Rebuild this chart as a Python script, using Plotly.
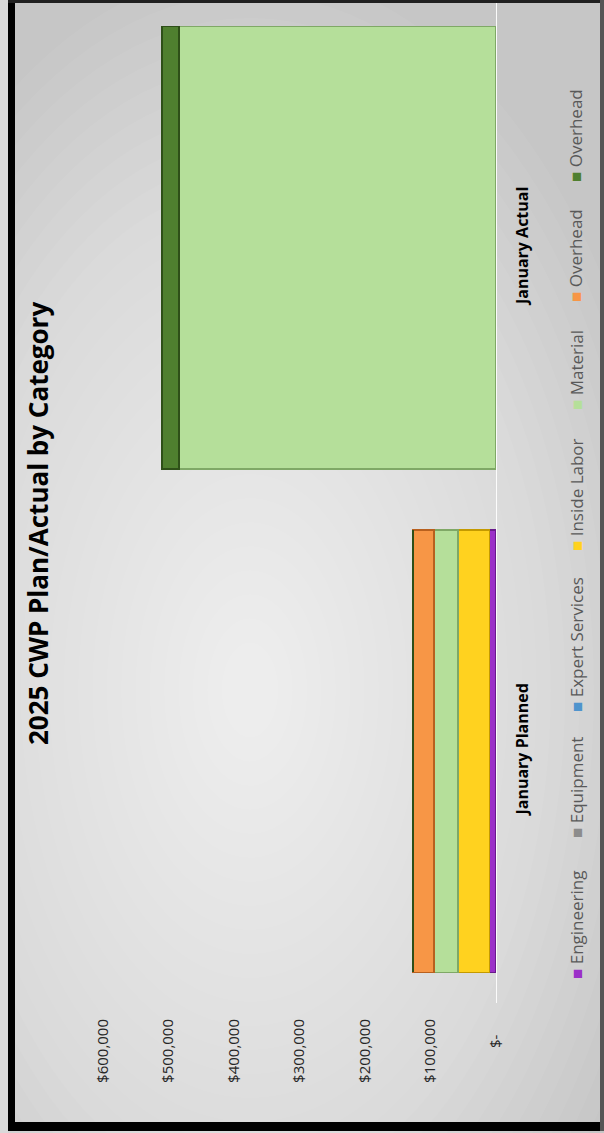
import plotly.graph_objects as go

# ---------------- data ----------------
categories = ["January Planned", "January Actual"]
series_names = ["Engineering", "Equipment", "Expert Services", "Inside Labor",
                "Material", "Overhead", "Overhead"]
engineering = [10000, 0]
equipment = [0, 0]
expert_services = [0, 0]
inside_labor = [48000, 0]
material = [37000, 484000]
overhead_orange = [32000, 0]
overhead_green = [0, 26000]
tick_values = [0, 100000, 200000, 300000, 400000, 500000, 600000]
tick_labels = ["$-\u00a0\u00a0\u00a0\u00a0", "$100,000", "$200,000", "$300,000",
               "$400,000", "$500,000", "$600,000"]
title_text = "2025 CWP Plan/Actual by Category"

series_values = [engineering, equipment, expert_services, inside_labor,
                 material, overhead_orange, overhead_green]
colors = ["#9B30C8", "#8C8C8C", "#4F94CD", "#FFD21F", "#B5DF9A", "#F79646", "#4F7F2F"]
edge_colors = ["#6A1A8C", "#5A5A5A", "#2E6A9E", "#C49A00", "#7FA866", "#B8601E", "#2E4F18"]

# ---------------- geometry ----------------
W, H = 604, 1133
ML, MR, MT, MB = 103, 108, 0, 130
PW = W - ML - MR
PH = H - MT - MB


def px(xp):
    return (xp - ML) / PW


def py(yp):
    return (H - MB - yp) / PH


fig = go.Figure()
for name, vals, c, ec in zip(series_names, series_values, colors, edge_colors):
    fig.add_trace(go.Bar(
        y=categories, x=vals, name=name, orientation="h",
        marker=dict(color=c, line=dict(color=ec, width=1.5)),
        showlegend=False,
    ))

# background gradient approximation
shapes = []
cx, cy = 250, 690
n = 30
for i in range(n):
    f = 1 - i / n
    rx, ry = 430 * f, 720 * f
    shapes.append(dict(type="circle", xref="paper", yref="paper", layer="below",
                       x0=px(cx - rx), x1=px(cx + rx), y0=py(cy + ry), y1=py(cy - ry),
                       fillcolor="white", opacity=0.05, line=dict(width=0)))


def rect(x0, y0, x1, y1, color):
    return dict(type="rect", xref="paper", yref="paper", layer="above",
                x0=px(x0), x1=px(x1), y0=py(y1), y1=py(y0),
                fillcolor=color, line=dict(width=0))


shapes += [
    rect(0, 0, 8, H, "#D9D9D9"),
    rect(8, 0, 15, 1130, "#000000"),
    rect(8, 0, W, 3, "#202020"),
    rect(8, 1122, W, 1131, "#000000"),
    rect(600, 0, W, 1131, "#555555"),
]

annotations = []
annotations.append(dict(text=f"<b>{title_text}</b>", x=px(38), y=py(524),
                        xref="paper", yref="paper", showarrow=False, textangle=-90,
                        xanchor="center", yanchor="middle",
                        font=dict(family="Open Sans", size=26, color="#000000")))

legend_centers = [925, 788, 645, 495, 370, 256, 136]
for name, c, yc in zip(series_names, colors, legend_centers):
    annotations.append(dict(
        text=f"<span style='color:{c}'>■</span> {name}",
        x=px(576), y=py(yc), xref="paper", yref="paper", showarrow=False,
        textangle=-90, xanchor="center", yanchor="middle",
        font=dict(family="Open Sans", size=17, color="#595959")))

fig.update_layout(
    width=W, height=H,
    margin=dict(l=ML, r=MR, t=MT, b=MB, autoexpand=False),
    barmode="stack", bargap=0.122,
    paper_bgcolor="#C6C6C6", plot_bgcolor="rgba(0,0,0,0)",
    shapes=shapes, annotations=annotations,
    xaxis=dict(range=[600000, 0], tickvals=tick_values, ticktext=tick_labels,
               tickangle=-90, showgrid=False, zeroline=False, showline=False,
               ticks="", ticklabelstandoff=12,
               tickfont=dict(family="Open Sans", size=15, color="#262626")),
    yaxis=dict(type="category", categoryorder="array", categoryarray=categories,
               range=[-0.5, -0.5 + PH / 503.5], side="right", tickangle=-90,
               showgrid=False, zeroline=False, showline=True,
               linecolor="rgba(255,255,255,0.9)", linewidth=1, ticks="",
               ticklabelstandoff=12,
               tickfont=dict(family="Open Sans", size=16, color="#000000", weight="bold")),
)

fig.write_html("out.html", config={"displayModeBar": False},
               post_script="document.body.style.margin='0px';document.body.style.overflow='hidden';")
